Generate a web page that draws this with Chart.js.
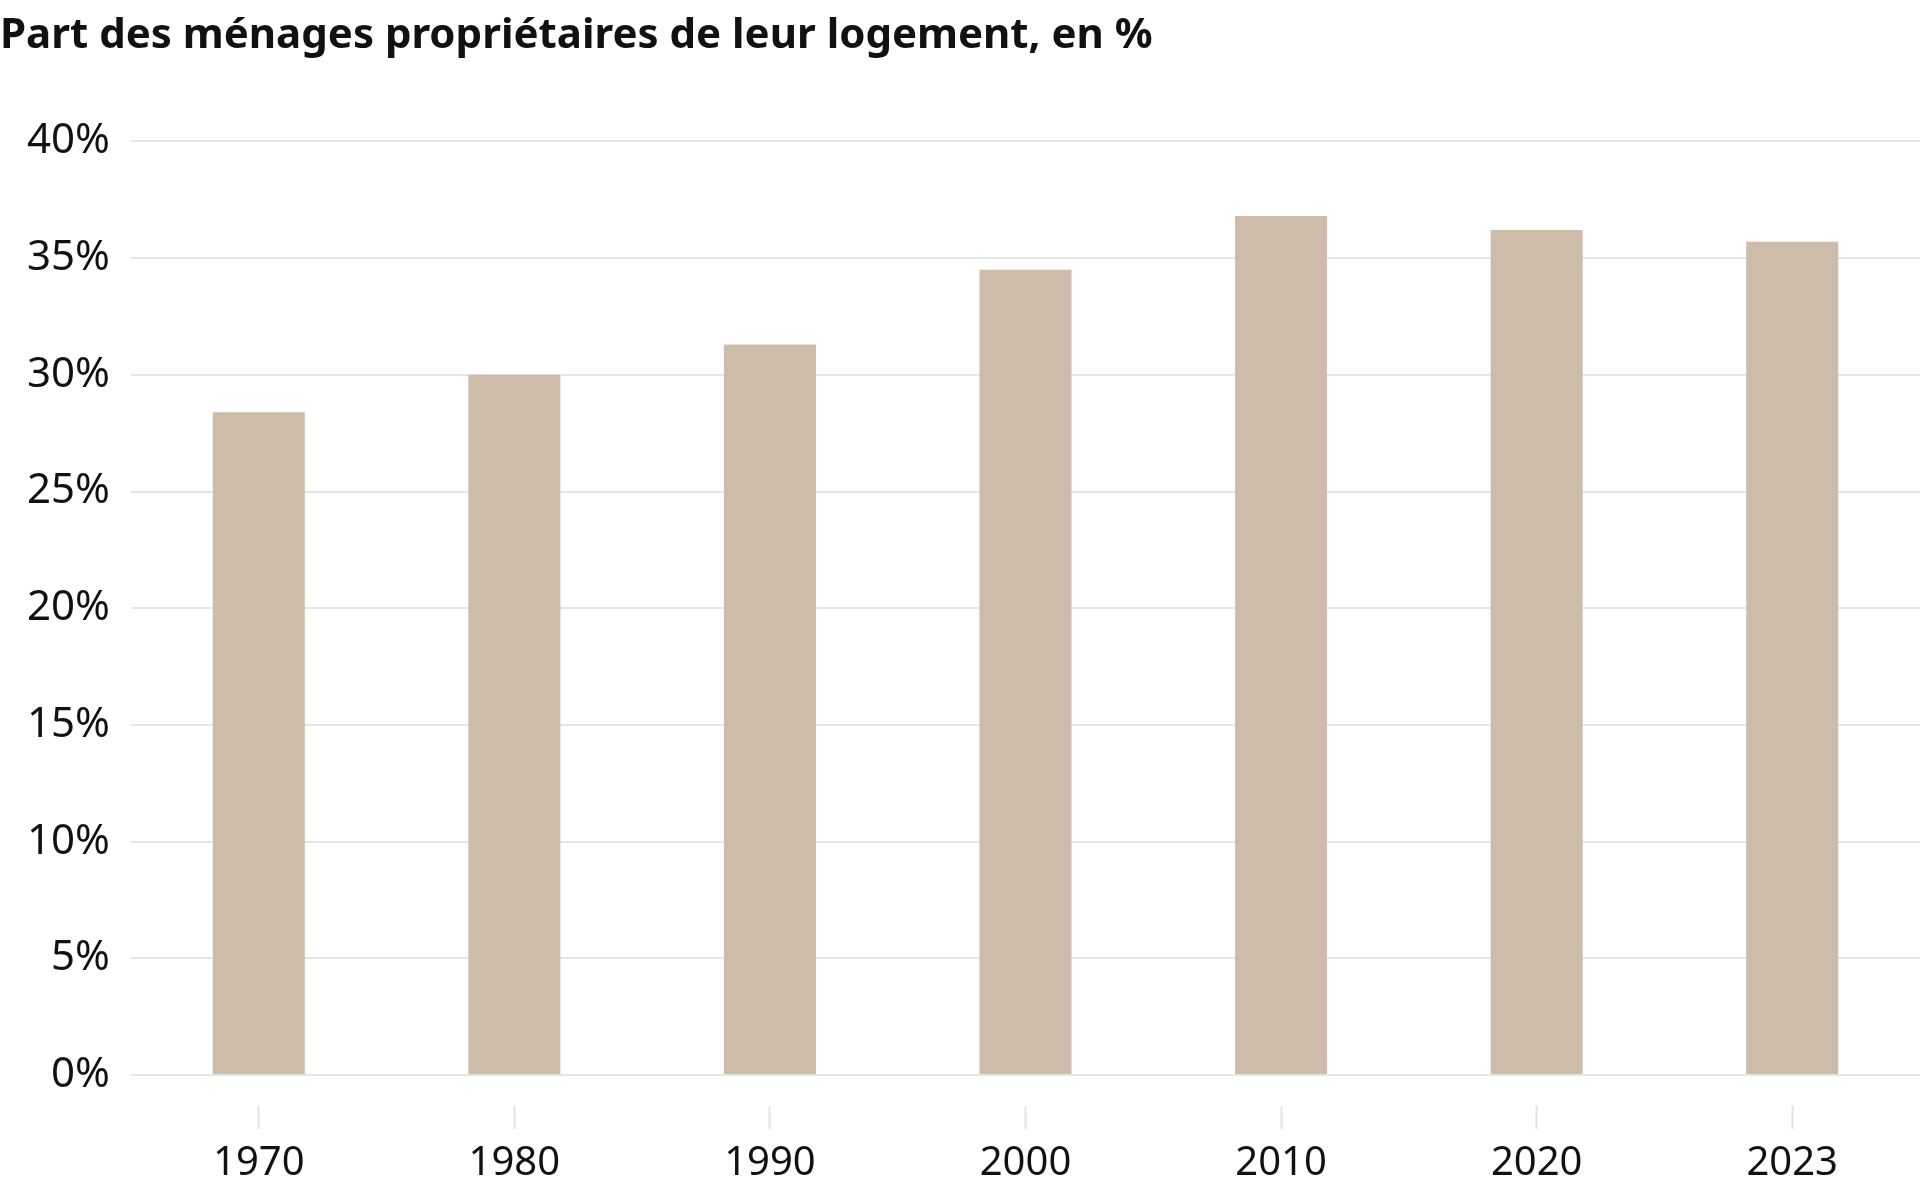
<!DOCTYPE html>
<html>
<head>
<meta charset="utf-8">
<script src="https://cdn.jsdelivr.net/npm/chart.js@4"></script>
<style>
  html, body { margin: 0; padding: 0; background: #fff; }
  canvas { display: block; }
</style>
</head>
<body>
<canvas id="bar-chart" width="1920" height="1192"></canvas>
<script>
const years = ["1970", "1980", "1990", "2000", "2010", "2020", "2023"];
const ownerShare = [28.4, 30.0, 31.3, 34.5, 36.8, 36.2, 35.7];
const yMin = 0, yMax = 40, yStep = 5;
const titleText = "Part des ménages propriétaires de leur logement, en %";

const chart = new Chart(document.getElementById("bar-chart"), {
  type: "bar",
  data: {
    labels: years,
    datasets: [{
      data: ownerShare,
      backgroundColor: "#cdbcaa",
      borderWidth: 0,
      barPercentage: 0.36,
      categoryPercentage: 1
    }]
  },
  options: {
    responsive: false,
    devicePixelRatio: 1,
    animation: false,
    layout: { padding: 0 },
    plugins: {
      legend: { display: false },
      tooltip: { enabled: false },
      title: {
        display: true,
        text: titleText,
        align: "start",
        color: "#111",
        font: { family: "Noto Sans", size: 42, weight: "bold" },
        padding: { top: 11, bottom: 80 }
      }
    },
    scales: {
      x: {
        grid: {
          display: true,
          offset: false,
          drawOnChartArea: false,
          drawTicks: true,
          tickLength: 54,
          tickColor: "#e2e2e2",
          tickWidth: 2,
          tickBorderDash: [0, 31, 23, 200]
        },
        border: { display: false },
        ticks: {
          color: "#111",
          padding: 11,
          font: { family: "Noto Sans", size: 40 }
        },
        afterFit: function (s) { s.height = 117; }
      },
      y: {
        min: yMin,
        max: yMax,
        grid: {
          color: "#e6e6e6",
          lineWidth: 2,
          drawTicks: false
        },
        border: { display: false },
        ticks: {
          stepSize: yStep,
          color: "#111",
          padding: 21,
          font: { family: "Noto Sans", size: 42 },
          callback: function (v) { return v + "%"; }
        },
        afterFit: function (s) { s.width = 131; }
      }
    }
  }
});
</script>
</body>
</html>
